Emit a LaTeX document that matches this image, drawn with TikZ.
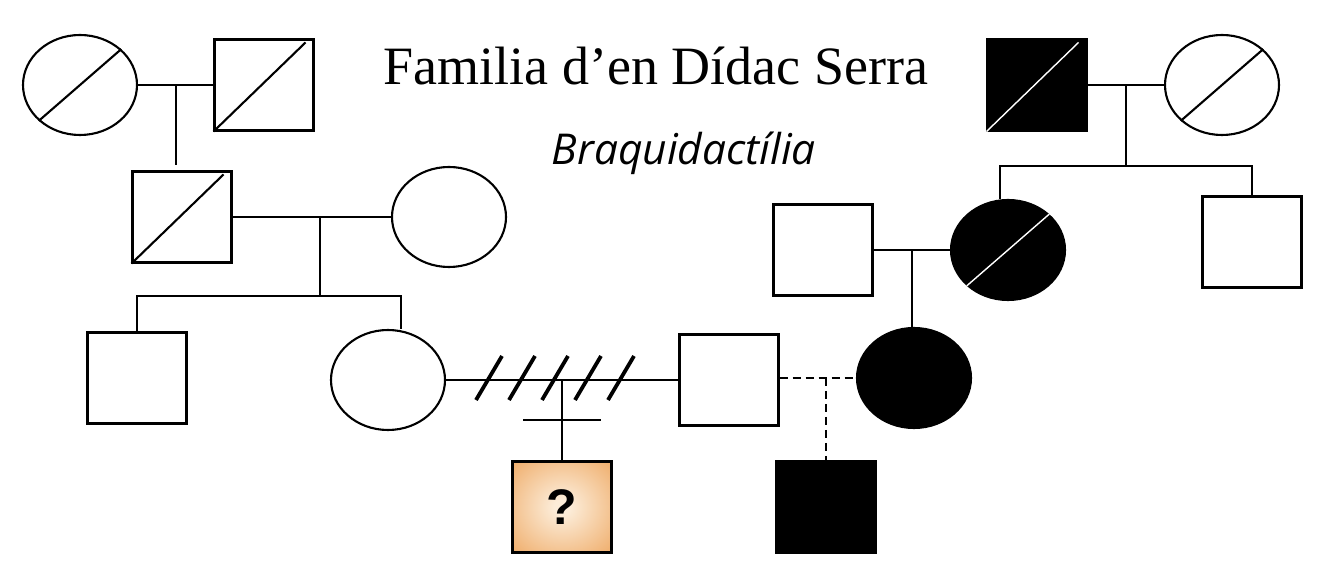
\documentclass[tikz,border=0pt]{standalone}
\usepackage{fontspec}
\setmainfont{Liberation Serif}
\newfontfamily\handfont{Open Sans}
\newfontfamily\markfont{Liberation Sans}
\usetikzlibrary{shapes.geometric,calc}
\definecolor{glowin}{RGB}{252,236,216}
\definecolor{glowout}{RGB}{238,168,98}
\pgfdeclareradialshading{glow}{\pgfpoint{0bp}{0bp}}{color(0bp)=(glowin); color(4bp)=(glowin); color(38bp)=(glowout); color(50bp)=(glowout)}
\newcommand{\deadsq}[2][black]{\draw[#1] (#2.south west) -- ($(#2.north east)+(-9,-4)$);}
\newcommand{\deadel}[2][black]{\draw[#1] (#2.221) -- (#2.41);}

\begin{document}
\begin{tikzpicture}[x=1pt,y=1pt,line width=2.1pt,
  male/.style={draw, rectangle, minimum width=99pt, minimum height=91pt, inner sep=0pt},
  female/.style={draw, ellipse, minimum width=114pt, minimum height=100pt, inner sep=0pt},
  affected/.style={fill=black},
  cutmark/.style={line width=3.8pt},
  halfline/.style={dash pattern=on 8pt off 5pt}]
\useasboundingbox (0,0) rectangle (1338,570);
\node[anchor=base, font=\fontsize{54}{60}\selectfont] (title) at (656,485) {Familia d’en Dídac Serra};
\node[anchor=base, font=\handfont\itshape\fontsize{42.5}{50}\selectfont] (disease) at (684,405) {Braquidactília};

\node[female] (ggmL) at (80,485) {};
\node[male] (ggfL) at (264,485) {};
\node[male, affected] (ggfR) at (1037,485) {};
\node[female] (ggmR) at (1222,485) {};
\node[male] (gfL) at (182,353) {};
\node[female] (gmL) at (449,353) {};
\node[male] (gfR) at (823,320) {};
\node[female, affected] (gmR) at (1008,320) {};
\node[male] (uncleR) at (1252,328) {};
\node[male] (uncleL) at (137,192) {};
\node[female] (mother) at (388,190) {};
\node[male] (father) at (729,190) {};
\node[female, affected] (partner) at (914,192) {};
\node[male, shade, shading=glow, font=\markfont\bfseries\fontsize{50}{50}\selectfont] (child) at (562,63) {?};
\node[male, affected] (halfsib) at (826,63) {};

\deadel{ggmL}
\deadsq{ggfL}
\deadsq[white, line width=1.4pt]{ggfR}
\deadel{ggmR}
\deadsq{gfL}
\deadel[white, line width=1.4pt]{gmR}

\draw (ggmL) -- (ggfL);
\coordinate (c1) at ($(ggmL.east)!.5!(ggfL.west)$);
\draw (c1) -- ($(c1 |- gfL.north)+(0,5)$);

\draw (gfL) -- (gmL);
\coordinate (c2) at ($(gfL.east)!.55!(gmL.west)$);
\coordinate (sib2) at ($(mother.north)+(13,33)$);
\draw (uncleL.north) |- (sib2) -- (sib2 |- mother.north);
\draw (c2) -- (c2 |- sib2);

\draw (ggfR) -- (ggmR);
\coordinate (c3) at ($(ggfR.east)!.5!(ggmR.west)$);
\coordinate (sib3) at ($(c3)+(0,-81)$);
\draw (c3) -- (sib3);
\draw ($(gmR.north)+(-8,0)$) |- (sib3) -| (uncleR.north);

\draw (gfR) -- (gmR);
\coordinate (c4) at ($(gfR.east)!.5!(gmR.west)$);
\draw (c4) -- (c4 |- partner.north);

\draw (mother) -- (father);
\foreach \sx in {489,522,555,588,621}
  \draw[cutmark] (\sx-13,170) -- (\sx+13,214);
\draw (child.north |- mother.east) -- (child.north);
\draw ($(child.north)+(-39,40)$) -- ($(child.north)+(39,40)$);

\draw[halfline] (father.east |- partner.west) -- (partner.west);
\draw[halfline] (halfsib.north |- partner.west) -- (halfsib.north);
\end{tikzpicture}
\end{document}
